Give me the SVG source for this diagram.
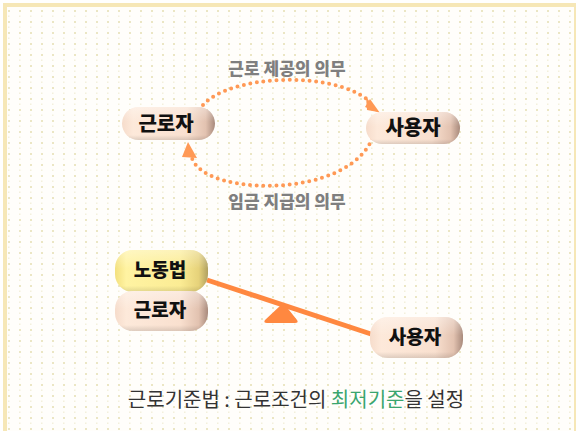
<svg xmlns="http://www.w3.org/2000/svg" width="577" height="431" viewBox="0 0 577 431">
  <defs>
    <pattern id="dots" x="4" y="6" width="11" height="11" patternUnits="userSpaceOnUse">
      <rect x="4" y="4" width="2" height="2" fill="#ebe6c4"/>
      <rect x="4" y="9.5" width="1.5" height="1.5" fill="#f3f0dc"/>
    </pattern>
    <linearGradient id="peach" x1="0" y1="0" x2="1" y2="0">
      <stop offset="0" stop-color="#f6dccb"/>
      <stop offset="0.12" stop-color="#fde9da"/>
      <stop offset="0.7" stop-color="#f9e0cf"/>
      <stop offset="0.9" stop-color="#e2c2b0"/>
      <stop offset="1" stop-color="#a88a7c"/>
    </linearGradient>
    <linearGradient id="yellow" x1="0" y1="0" x2="1" y2="0">
      <stop offset="0" stop-color="#f3e07e"/>
      <stop offset="0.12" stop-color="#fff3a2"/>
      <stop offset="0.7" stop-color="#fbec94"/>
      <stop offset="0.9" stop-color="#e6d27a"/>
      <stop offset="1" stop-color="#b0a060"/>
    </linearGradient>
    <linearGradient id="shade" x1="0" y1="0" x2="0" y2="1">
      <stop offset="0" stop-color="#ffffff" stop-opacity="0.35"/>
      <stop offset="0.45" stop-color="#ffffff" stop-opacity="0"/>
      <stop offset="0.85" stop-color="#000000" stop-opacity="0"/>
      <stop offset="1" stop-color="#000000" stop-opacity="0.12"/>
    </linearGradient>
  </defs>
  <style>
    .node-text { font-family: "Noto Sans CJK KR", "Noto Sans", sans-serif; font-weight: 900; fill: #111111; text-anchor: middle; }
    .label { font-family: "Noto Sans CJK KR", "Noto Sans", sans-serif; font-weight: 900; fill: #7f7f7f; font-size: 17px; text-anchor: middle; }
    .dotted { fill: none; stroke: #ff9955; stroke-width: 4; stroke-linecap: round; stroke-dasharray: 0 6.6; }
    .caption { font-family: "Noto Sans CJK KR", "Noto Sans", sans-serif; font-size: 20px; fill: #333333; }
  </style>

  <rect x="0" y="0" width="577" height="431" fill="#ffffff"/>
  <rect x="7" y="7" width="567" height="424" fill="#fffefb"/>
  <rect x="7" y="7" width="567" height="424" fill="url(#dots)"/>
  <rect x="3" y="3" width="572" height="4" fill="#f6e7b7"/>
  <rect x="3" y="3" width="4" height="428" fill="#f6e7b7"/>
  <rect x="574" y="3" width="2" height="428" fill="#f6e7b7"/>

  <g id="connectors">
    <path class="dotted" d="M203,105 C230,75 330,70 368,100"/>
    <path d="M366,97 L378,112 L367,110 Z" fill="#ff9955"/>
    <path d="M370,99 L380,113 L365,107 Z" fill="#ff9955"/>
    <path class="dotted" d="M376,119 C376,200 205,200 192,158"/>
    <path d="M188,142 L197,158 L182,157 Z" fill="#ff9955"/>
    <line x1="207" y1="280" x2="371" y2="334" stroke="#ff8840" stroke-width="5"/>
    <path d="M281,305 Q283,303 285,305 L297,320 Q299,323 295,323 L267,323 Q263,323 265,320 Z" fill="#ff8840"/>
  </g>

  <g id="label-top"><text class="label" x="287" y="75">근로 제공의 의무</text></g>
  <g id="label-bottom"><text class="label" x="287" y="208">임금 지급의 의무</text></g>

  <g id="worker-top">
    <rect x="122" y="107" width="93" height="33" rx="16.5" fill="url(#peach)"/>
    <rect x="122" y="107" width="93" height="33" rx="16.5" fill="url(#shade)"/>
    <text class="node-text" x="166" y="131" font-size="20">근로자</text>
  </g>
  <g id="employer-top">
    <rect x="366" y="112" width="94" height="32" rx="16" fill="url(#peach)"/>
    <rect x="366" y="112" width="94" height="32" rx="16" fill="url(#shade)"/>
    <text class="node-text" x="413" y="135" font-size="20">사용자</text>
  </g>

  <g id="labor-law">
    <rect x="115" y="250" width="93" height="42" rx="18" fill="url(#yellow)"/>
    <rect x="115" y="250" width="93" height="42" rx="18" fill="url(#shade)"/>
    <text class="node-text" x="160" y="277" font-size="19">노동법</text>
  </g>
  <g id="worker-bottom">
    <rect x="115" y="291" width="93" height="40" rx="18" fill="url(#peach)"/>
    <rect x="115" y="291" width="93" height="40" rx="18" fill="url(#shade)"/>
    <text class="node-text" x="160" y="317" font-size="19">근로자</text>
  </g>
  <g id="employer-bottom">
    <rect x="370" y="317" width="93" height="41" rx="18" fill="url(#peach)"/>
    <rect x="370" y="317" width="93" height="41" rx="18" fill="url(#shade)"/>
    <text class="node-text" x="415" y="344" font-size="19">사용자</text>
  </g>

  <g id="caption">
    <text class="caption" x="296" y="407" text-anchor="middle">근로기준법 : 근로조건의 <tspan fill="#3aa56e">최저기준</tspan>을 설정</text>
  </g>
</svg>
